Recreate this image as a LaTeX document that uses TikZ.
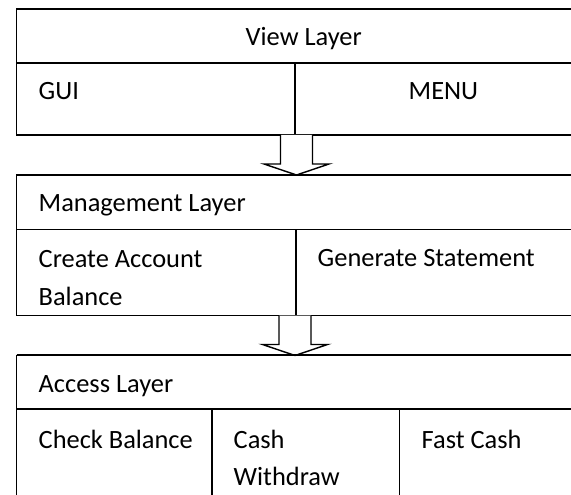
\documentclass[tikz,border=0pt]{standalone}
\usepackage{fontspec}
\setmainfont{Carlito}
\usetikzlibrary{calc}
\begin{document}
\begin{tikzpicture}[x=1bp,y=-1bp,line width=1.4bp,
  lbl/.style={anchor=base west,inner sep=0pt,font=\fontsize{26.5}{32}\selectfont},
  frame/.style={draw=black,line width=1.4bp},
  blockarrow/.style={draw=black,fill=white,line width=1.4bp,line join=miter}]
\useasboundingbox (0,0) rectangle (571,495);
\clip (0,0) rectangle (571,495);

% layer outlines (they run past the right and bottom edges)
\draw[frame] (16.5,9) rectangle (600,135);
\draw[frame] (16.5,63) -- (600,63);
\draw[frame] (295,63) -- (295,135);

\draw[frame] (16.5,175) rectangle (600,315.5);
\draw[frame] (16.5,229.5) -- (600,229.5);
\draw[frame] (296,229.5) -- (296,315.5);

\draw[frame] (16.5,355) -- (600,355);
\draw[frame] (16.5,355) -- (16.5,520);
\draw[frame] (16.5,409) -- (600,409);
\draw[frame] (212,409) -- (212,520);
\draw[frame] (399.5,409) -- (399.5,520);

% block arrows between layers
\coordinate (a1top) at (296.5,135);
\coordinate (a1tip) at (296.5,175);
\coordinate (a2top) at (295,315.5);
\coordinate (a2tip) at (295,355.5);
\foreach \t/\p in {a1top/a1tip,a2top/a2tip}{
  \draw[blockarrow] ($(\t)+(-16,0)$) -- ($(\p)+(-16,-11)$) -- ($(\p)+(-32.5,-11)$)
    -- (\p) -- ($(\p)+(32.5,-11)$) -- ($(\p)+(16,-11)$) -- ($(\t)+(16,0)$);
}
\draw[frame] (16.5,175) -- (600,175);
\draw[frame] (16.5,355) -- (600,355);

% labels
\node[lbl] (view) at (245,46) {View Layer};
\node[lbl] (gui) at (38,100) {GUI};
\node[lbl] (menu) at (408,100) {MENU};
\node[lbl] (mgmt) at (38,212) {Management Layer};
\node[lbl] (create) at (38,267) {Create Account};
\node[lbl] (bal) at (38,305) {Balance};
\node[lbl] (gen) at (317,266) {Generate Statement};
\node[lbl] (access) at (38,392) {Access Layer};
\node[lbl] (check) at (38,448) {Check Balance};
\node[lbl] (cash) at (233,448) {Cash};
\node[lbl] (withdraw) at (233,485) {Withdraw};
\node[lbl] (fast) at (421,448) {Fast Cash};
\end{tikzpicture}
\end{document}
